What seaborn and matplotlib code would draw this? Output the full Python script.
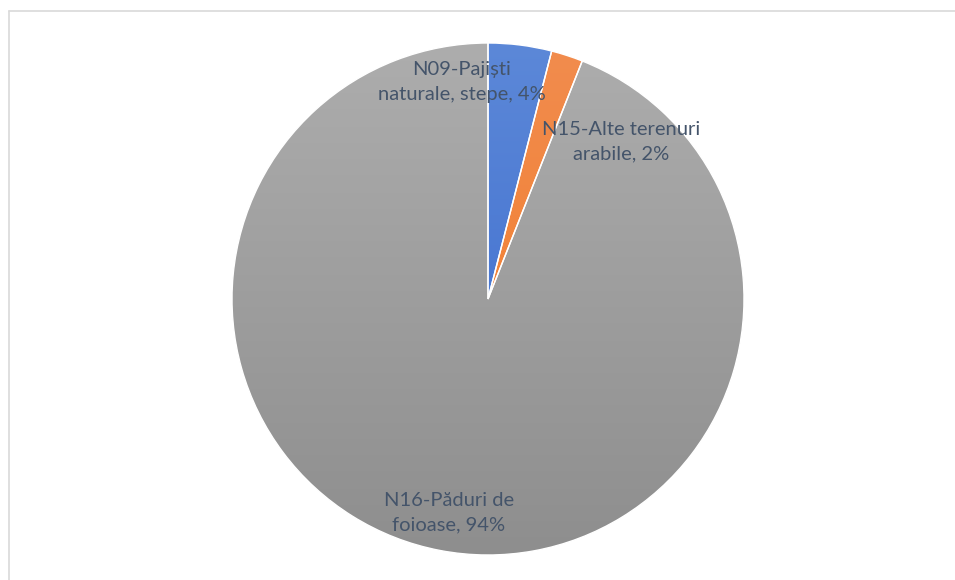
import numpy as np
import matplotlib
matplotlib.use("Agg")
import matplotlib.pyplot as plt
import seaborn as sns
from matplotlib.colors import LinearSegmentedColormap
from matplotlib.lines import Line2D
from matplotlib.patches import Wedge

categories = ["N09-Pajiști\nnaturale, stepe", "N15-Alte terenuri\narabile", "N16-Păduri de\nfoioase"]
values = [4, 2, 94]
top_colors = ["#5C88D8", "#F28C4E", "#ADADAD"]
bottom_colors = ["#3767CC", "#F07A24", "#8E8E8E"]
label_pos = [(462, 82), (621, 142), (449, 513)]

sns.set_theme(style="white")
plt.rcParams['font.family'] = ['Lato', 'DejaVu Sans']

W, H = 955, 580
fig = plt.figure(figsize=(W / 100, H / 100), dpi=100)
ax = fig.add_axes([0, 0, 1, 1])

cx, cy, r = 488, H - 299, 256
wedges, _ = ax.pie(values, startangle=90, counterclock=False, radius=r,
                   center=(cx, cy), colors=top_colors, frame=True,
                   wedgeprops=dict(edgecolor="white", linewidth=1))
ax.set_xlim(0, W)
ax.set_ylim(0, H)
ax.axis("off")

grad = np.linspace(0, 1, 256).reshape(-1, 1)
for w, ct, cb in zip(wedges, top_colors, bottom_colors):
    cmap = LinearSegmentedColormap.from_list("g", [cb, ct])
    im = ax.imshow(grad, cmap=cmap, origin="lower", aspect="auto",
                   extent=(cx - r, cx + r, cy - r, cy + r), zorder=2)
    im.set_clip_path(w)
for w in wedges:
    ax.add_patch(Wedge(w.center, w.r, w.theta1, w.theta2, facecolor="none",
                       edgecolor="white", linewidth=1, zorder=3))

for lab, v, (x, y) in zip(categories, values, label_pos):
    ax.text(x, H - y, f"{lab}, {v}%", ha="center", va="center", fontsize=14.5,
            color="#44546A", linespacing=1.55, zorder=5)

ax.set_xlim(0, W)
ax.set_ylim(0, H)
ax.add_line(Line2D([8.5, 8.5], [0, H - 10.5], color="#D9D9D9", lw=1.2, zorder=6))
ax.add_line(Line2D([8.5, W], [H - 10.5, H - 10.5], color="#D9D9D9", lw=1.2, zorder=6))

fig.savefig("out.png", dpi=100)
